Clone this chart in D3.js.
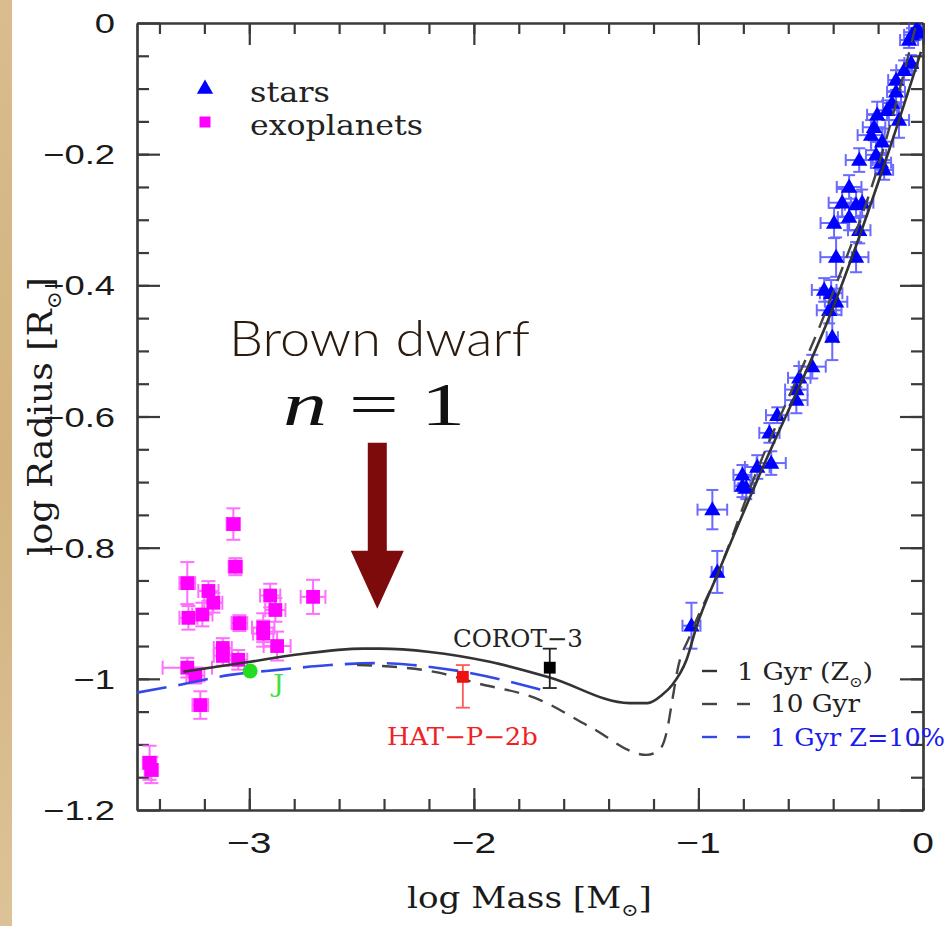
<!DOCTYPE html>
<html><head><meta charset="utf-8">
<script src="https://cdn.jsdelivr.net/npm/d3@7/dist/d3.min.js"></script>
<style>html,body{margin:0;padding:0;background:#fff;} svg{display:block;}</style>
</head><body>
<svg id="c" width="950" height="926"></svg>
<script>
// ---------------- DATA ----------------
const xMajorTicks = [-3, -2, -1, 0];
const xTickLabels = ["\u22123", "\u22122", "\u22121", "0"];
const yMajorTicks = [0, -0.2, -0.4, -0.6, -0.8, -1, -1.2];
const yTickLabels = ["0", "\u22120.2", "\u22120.4", "\u22120.6", "\u22120.8", "\u22121", "\u22121.2"];

// stars: [log M, log R, err log M, err log R]
const stars = [
  [-0.027,-0.008,0.035,0.010],[-0.049,-0.018,0.035,0.010],[-0.013,-0.015,0.030,0.010],
  [-0.062,-0.026,0.040,0.012],[-0.053,-0.061,0.030,0.012],[-0.084,-0.072,0.035,0.015],
  [-0.120,-0.087,0.035,0.015],[-0.120,-0.105,0.040,0.018],[-0.138,-0.122,0.040,0.018],
  [-0.160,-0.133,0.045,0.015],[-0.204,-0.140,0.045,0.020],[-0.107,-0.148,0.045,0.027],
  [-0.218,-0.159,0.050,0.020],[-0.231,-0.171,0.060,0.023],[-0.182,-0.181,0.050,0.020],
  [-0.284,-0.209,0.060,0.018],[-0.209,-0.201,0.045,0.020],[-0.187,-0.213,0.045,0.015],
  [-0.173,-0.224,0.040,0.015],[-0.329,-0.250,0.055,0.018],[-0.360,-0.274,0.060,0.021],
  [-0.298,-0.277,0.050,0.020],[-0.271,-0.274,0.050,0.020],[-0.396,-0.305,0.060,0.023],
  [-0.329,-0.296,0.050,0.020],[-0.284,-0.316,0.050,0.020],[-0.387,-0.357,0.070,0.030],
  [-0.298,-0.357,0.055,0.023],[-0.440,-0.407,0.055,0.018],[-0.409,-0.412,0.050,0.020],
  [-0.418,-0.438,0.055,0.020],[-0.387,-0.425,0.050,0.020],[-0.404,-0.479,0.025,0.035],
  [-0.493,-0.524,0.060,0.018],[-0.551,-0.541,0.050,0.018],[-0.564,-0.559,0.050,0.018],
  [-0.564,-0.575,0.050,0.020],[-0.649,-0.598,0.050,0.012],[-0.684,-0.625,0.045,0.015],
  [-0.676,-0.671,0.065,0.018],[-0.738,-0.677,0.055,0.018],[-0.804,-0.689,0.040,0.015],
  [-0.804,-0.706,0.035,0.017],[-0.787,-0.709,0.035,0.017],[-0.938,-0.742,0.066,0.030],
  [-0.916,-0.837,0.025,0.032],[-1.031,-0.919,0.040,0.035]
];

// exoplanets: [log M, log R, err log M, err log R]
const exoplanets = [
  [-3.071,-0.764,0.030,0.024],[-3.062,-0.829,0.030,0.013],[-3.276,-0.854,0.035,0.032],
  [-3.182,-0.866,0.045,0.015],[-3.160,-0.884,0.040,0.015],[-3.271,-0.907,0.040,0.018],
  [-3.209,-0.902,0.045,0.018],[-3.044,-0.915,0.035,0.012],[-2.907,-0.873,0.045,0.018],
  [-2.884,-0.895,0.045,0.018],[-2.938,-0.922,0.050,0.022],[-2.938,-0.931,0.045,0.020],
  [-2.876,-0.950,0.060,0.022],[-2.716,-0.875,0.055,0.026],[-3.118,-0.953,0.040,0.015],
  [-3.118,-0.965,0.040,0.015],[-3.049,-0.971,0.040,0.015],[-3.276,-0.983,0.110,0.015],
  [-3.240,-0.995,0.040,0.012],[-3.218,-1.040,0.035,0.021],[-3.444,-1.128,0.030,0.026],
  [-3.436,-1.139,0.030,0.020]
];

// model curves: [log M, log R]
const model1GyrSolar = [
  [-3.293,-0.989],[-2.996,-0.974],[-2.787,-0.963],[-2.493,-0.954],[-2.418,-0.954],
  [-2.196,-0.959],[-1.929,-0.974],[-1.662,-0.998],[-1.307,-1.037],[-1.227,-1.037],
  [-1.160,-1.024],[-1.116,-1.009],[-1.053,-0.971],[-1.009,-0.921],[-0.907,-0.834],
  [-0.738,-0.697],[-0.387,-0.422],[-0.151,-0.194],[-0.009,-0.044]
];
const model10Gyr = [
  [-2.520,-0.979],[-2.342,-0.982],[-2.151,-0.991],[-2.004,-1.005],[-1.707,-1.032],
  [-1.484,-1.073],[-1.231,-1.116],[-1.173,-1.108],[-1.142,-1.082],[-1.116,-1.032],
  [-1.093,-0.986],[-1.040,-0.936],[-0.907,-0.834],[-0.756,-0.697],[-0.413,-0.422],
  [-0.178,-0.194],[-0.031,-0.003]
];
const model1GyrZ10 = [
  [-3.500,-1.021],[-3.307,-1.009],[-3.084,-0.994],[-2.862,-0.986],[-2.640,-0.979],
  [-2.418,-0.976],[-2.271,-0.979],[-2.049,-0.989],[-1.698,-1.017]
];

// named objects: [log M, log R, log R low, log R high]
const jupiter = [-2.996, -0.988];
const hatP2b = [-2.049, -0.997, -1.044, -0.979];
const corot3 = [-1.662, -0.983, -1.014, -0.954];

// annotation arrow: log M, top log R, tip log R
const arrowM = -2.43;
const arrowR = [-0.640, -0.893];

const legendTop = ["stars", "exoplanets"];
const legendModels = ["1 Gyr (Z", "10 Gyr", "1 Gyr Z=10%"];

// ---------------- DRAW ----------------
const svg = d3.select("#c");
const L = 137, R = 923, T = 23, B = 810;
const x = d3.scaleLinear().domain([-3.5, 0]).range([L, R]);
const y = d3.scaleLinear().domain([-1.2, 0]).range([B, T]);
const axisCol = "#3a3a3a";

// background + tan strip
svg.append("rect").attr("width", 950).attr("height", 926).attr("fill", "#fff");
const grad = svg.append("defs").append("linearGradient").attr("id", "tan")
  .attr("x1", 0).attr("x2", 0).attr("y1", 0).attr("y2", 1);
grad.append("stop").attr("offset", 0).attr("stop-color", "#d9bd8e");
grad.append("stop").attr("offset", 0.5).attr("stop-color", "#d2b280");
grad.append("stop").attr("offset", 1).attr("stop-color", "#dcc397");
svg.append("rect").attr("x", 0).attr("y", 0).attr("width", 12).attr("height", 926).attr("fill", "url(#tan)");

// helper for horizontally stretched text
function sText(parent, px, py, parts, o) {
  const g = parent.append("g");
  const t = g.append("text")
    .attr("font-family", o.family).attr("font-size", o.size)
    .attr("fill", o.fill || "#222").attr("text-anchor", o.anchor || "start")
    .attr("font-style", o.style || null).attr("font-weight", o.weight || null);
  (Array.isArray(parts) ? parts : [{t: parts}]).forEach(p => {
    const ts = t.append("tspan").text(p.t);
    if (p.sub) ts.attr("font-size", o.size * 0.6).attr("dy", o.size * 0.28);
    if (p.after) ts.attr("dy", -o.size * 0.28);
    if (p.style) ts.attr("font-style", p.style);
    if (p.family) ts.attr("font-family", p.family);
  });
  let sx = o.sx || 1;
  if (o.width) sx = o.width / t.node().getComputedTextLength();
  const rot = o.rotate ? ` rotate(${o.rotate})` : "";
  const sy = o.sy || 1;
  g.attr("transform", `translate(${px},${py})${rot} scale(${sx},${sy})`);
  return g;
}

// axes (ticks inward)
const minorX = d3.range(-3.4, 0.001, 0.2).map(v => +v.toFixed(2));
const minorY = d3.range(-1.15, 0, 0.05).map(v => +v.toFixed(2));
function drawAxis(gen, transform, major, minor, majLen, minLen) {
  const g1 = svg.append("g").attr("transform", transform)
    .call(gen.tickValues(minor).tickSize(minLen).tickSizeOuter(0).tickFormat(""));
  const g2 = svg.append("g").attr("transform", transform)
    .call(gen.tickValues(major).tickSize(majLen).tickSizeOuter(0).tickFormat(""));
  [g1, g2].forEach(g => {
    g.selectAll("path,line").attr("stroke", axisCol).attr("stroke-width", 2.2);
  });
}
drawAxis(d3.axisBottom(x), `translate(0,${B})`, xMajorTicks, minorX, -22, -11);
drawAxis(d3.axisTop(x), `translate(0,${T})`, xMajorTicks, minorX, -22, -11);
drawAxis(d3.axisLeft(y), `translate(${L},0)`, yMajorTicks, minorY, -23, -12);
drawAxis(d3.axisRight(y), `translate(${R},0)`, yMajorTicks, minorY, -23, -12);

// tick labels
xMajorTicks.forEach((v, i) => {
  sText(svg, x(v), 853, xTickLabels[i], {family: "Liberation Sans, Arial, sans-serif", size: 30, anchor: "middle", sx: 1.3, fill: "#1a1a1a"});
});
yMajorTicks.forEach((v, i) => {
  sText(svg, 115, y(v) + 10, yTickLabels[i], {family: "Liberation Sans, Arial, sans-serif", size: 28, anchor: "end", sx: 1.3, fill: "#1a1a1a"});
});

// axis titles
sText(svg, 407, 908, [{t: "log Mass [M"}, {t: "\u2299", sub: true}, {t: "]", after: true}],
  {family: "DejaVu Serif, serif", size: 29, width: 245, fill: "#1a1a1a"});
sText(svg, 52, 556, [{t: "log Radius [R"}, {t: "\u2299", sub: true}, {t: "]", after: true}],
  {family: "DejaVu Serif, serif", size: 26, width: 279, rotate: -90, sy: 1.3, fill: "#1a1a1a"});

// plot area clip
svg.append("defs").append("clipPath").attr("id", "clip")
  .append("rect").attr("x", L).attr("y", T).attr("width", R - L).attr("height", B - T);
const plot = svg.append("g").attr("clip-path", "url(#clip)");

// error bars helper
function errBars(g, data, col, cap, op) {
  const eg = g.append("g").attr("stroke", col).attr("stroke-width", 2).attr("opacity", op).attr("fill", "none");
  data.forEach(d => {
    const cx = x(d[0]), cy = y(d[1]);
    const x0 = x(d[0] - d[2]), x1 = x(d[0] + d[2]);
    const y0 = y(d[1] - d[3]), y1 = y(d[1] + d[3]);
    eg.append("line").attr("x1", x0).attr("x2", x1).attr("y1", cy).attr("y2", cy);
    eg.append("line").attr("x1", cx).attr("x2", cx).attr("y1", y0).attr("y2", y1);
    eg.append("line").attr("x1", x0).attr("x2", x0).attr("y1", cy - cap).attr("y2", cy + cap);
    eg.append("line").attr("x1", x1).attr("x2", x1).attr("y1", cy - cap).attr("y2", cy + cap);
    eg.append("line").attr("x1", cx - cap).attr("x2", cx + cap).attr("y1", y0).attr("y2", y0);
    eg.append("line").attr("x1", cx - cap).attr("x2", cx + cap).attr("y1", y1).attr("y2", y1);
  });
}
const triSym = d3.symbol().type(d3.symbolTriangle).size(115);
const sqSym = d3.symbol().type(d3.symbolSquare).size(190);

errBars(plot, exoplanets, "#ff55ff", 7, 0.85);
plot.append("g").selectAll("path").data(exoplanets).join("path")
  .attr("d", sqSym).attr("transform", d => `translate(${x(d[0])},${y(d[1])})`).attr("fill", "#ff00ff");

errBars(plot, stars, "#4545ff", 6, 0.8);
plot.append("g").selectAll("path").data(stars).join("path")
  .attr("d", triSym).attr("transform", d => `translate(${x(d[0])},${y(d[1]) + 1})`).attr("fill", "#0000ff");

// model curves
const line = d3.line().x(d => x(d[0])).y(d => y(d[1])).curve(d3.curveMonotoneX);
plot.append("path").attr("d", line(model1GyrZ10)).attr("fill", "none")
  .attr("stroke", "#3348e8").attr("stroke-width", 2.6).attr("stroke-dasharray", "30,12");
plot.append("path").attr("d", line(model10Gyr)).attr("fill", "none")
  .attr("stroke", "#444").attr("stroke-width", 2.4).attr("stroke-dasharray", "15,10");
plot.append("path").attr("d", line(model1GyrSolar)).attr("fill", "none")
  .attr("stroke", "#333").attr("stroke-width", 2.6);

// special objects
plot.append("circle").attr("cx", x(jupiter[0])).attr("cy", y(jupiter[1])).attr("r", 7.5).attr("fill", "#22dd22");
function special(obj, col, ecol) {
  const cx = x(obj[0]);
  const g = plot.append("g");
  g.append("line").attr("x1", cx).attr("x2", cx).attr("y1", y(obj[2])).attr("y2", y(obj[3])).attr("stroke", ecol).attr("stroke-width", 1.8);
  [obj[2], obj[3]].forEach(v => g.append("line").attr("x1", cx - 7).attr("x2", cx + 7).attr("y1", y(v)).attr("y2", y(v)).attr("stroke", ecol).attr("stroke-width", 1.8));
  g.append("path").attr("d", d3.symbol().type(d3.symbolSquare).size(140)())
    .attr("transform", `translate(${cx},${y(obj[1])})`).attr("fill", col);
}
special(hatP2b, "#ee1111", "#ff5a5a");
special(corot3, "#000", "#222");

// object labels
sText(svg, x(-2.093), y(-0.951), "COROT\u22123", {family: "DejaVu Serif, serif", size: 24, width: 130, fill: "#222"});
sText(svg, x(-2.387), y(-1.101), "HAT\u2212P\u22122b", {family: "DejaVu Serif, serif", size: 24, width: 151, fill: "#ee2222"});
sText(svg, x(-2.894), y(-1.020), "J", {family: "DejaVu Serif, serif", size: 24, width: 11, fill: "#44dd44"});

// top-left legend
svg.append("path").attr("d", triSym).attr("transform", "translate(205,89)").attr("fill", "#0000ff");
svg.append("path").attr("d", d3.symbol().type(d3.symbolSquare).size(121)()).attr("transform", "translate(205,122)").attr("fill", "#ff00ff");
sText(svg, 250, 102, legendTop[0], {family: "DejaVu Serif, serif", size: 27, width: 80, fill: "#222"});
sText(svg, 250, 135, legendTop[1], {family: "DejaVu Serif, serif", size: 27, width: 173, fill: "#222"});

// bottom-right legend
svg.append("line").attr("x1", 702).attr("x2", 717).attr("y1", 671).attr("y2", 671).attr("stroke", "#333").attr("stroke-width", 2.4);
[[702,717],[737,750]].forEach(s => {
  svg.append("line").attr("x1", s[0]).attr("x2", s[1]).attr("y1", 704).attr("y2", 704).attr("stroke", "#444").attr("stroke-width", 2.4);
  svg.append("line").attr("x1", s[0]).attr("x2", s[1]).attr("y1", 737).attr("y2", 737).attr("stroke", "#3348e8").attr("stroke-width", 2.4);
});
sText(svg, 737, 680, [{t: legendModels[0]}, {t: "\u2299", sub: true}, {t: ")", after: true}], {family: "DejaVu Serif, serif", size: 24, width: 136, fill: "#222"});
sText(svg, 770, 712, legendModels[1], {family: "DejaVu Serif, serif", size: 24, width: 90, fill: "#222"});
sText(svg, 770, 746, legendModels[2], {family: "DejaVu Serif, serif", size: 24, width: 175, fill: "#1a1aee"});

// annotation: Brown dwarf n = 1 and arrow
sText(svg, 229, 356, "Brown dwarf", {family: "Lato, Open Sans, sans-serif", weight: 300, size: 50, width: 301, fill: "#2a1a0e"});
sText(svg, 283, 425, [{t: "n", style: "italic"}, {t: " = 1"}], {family: "Liberation Serif, serif", size: 61, width: 182, fill: "#111"});
const ax = x(arrowM), aTop = y(arrowR[0]), aTip = y(arrowR[1]);
const headH = 58, shaftW = 19, headW = 53;
svg.append("path").attr("fill", "#7e0b0b")
  .attr("d", `M${ax - shaftW/2},${aTop} L${ax + shaftW/2},${aTop} L${ax + shaftW/2},${aTip - headH} L${ax + headW/2},${aTip - headH} L${ax},${aTip} L${ax - headW/2},${aTip - headH} L${ax - shaftW/2},${aTip - headH} Z`);
</script>
</body></html>
